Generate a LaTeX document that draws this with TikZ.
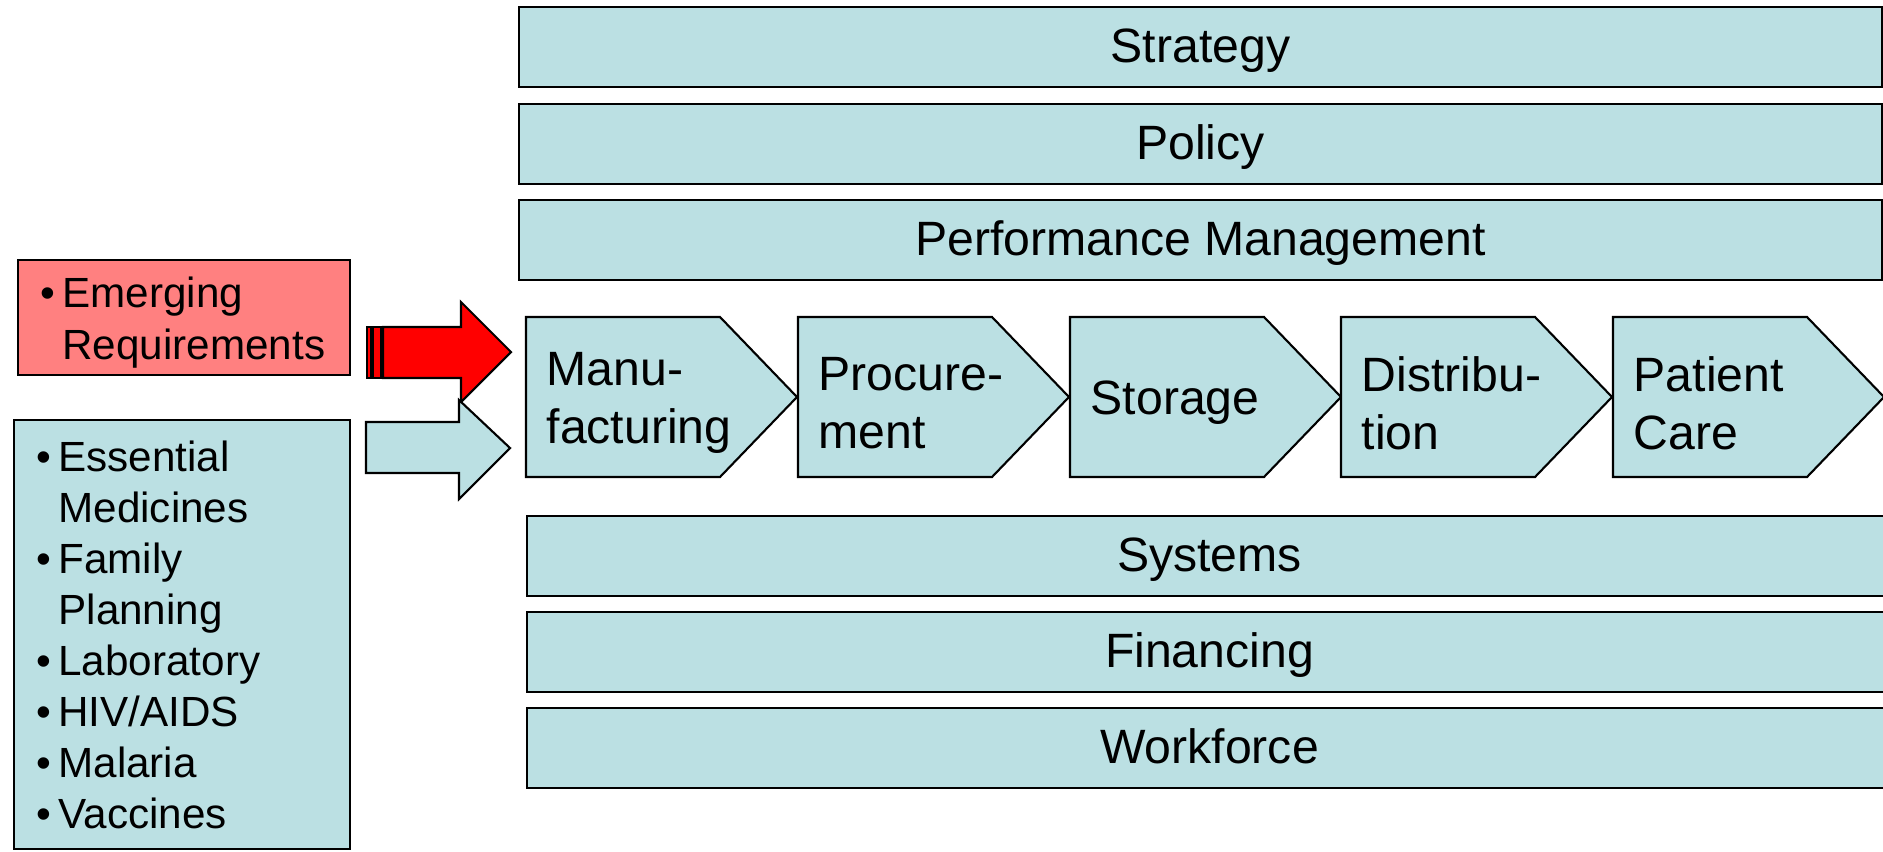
\documentclass[tikz,border=0pt]{standalone}
\usepackage{fontspec}
\setmainfont{Liberation Sans}
\usepackage{xcolor}
\definecolor{barblue}{RGB}{187,224,227}
\definecolor{reqpink}{RGB}{255,128,128}
\definecolor{arrred}{RGB}{255,0,0}

\begin{document}
\begin{tikzpicture}[x=0.01cm,y=-0.01cm]
    \tikzstyle{tier}=[draw,line width=.6pt,fill=barblue,anchor=north west,minimum height=.8cm,inner sep=0pt,text height=.86em,text depth=0pt,font=\fontsize{13.7}{16.5}\selectfont]
    \tikzstyle{chev}=[draw,line width=.6pt,fill=barblue]
    \tikzstyle{chevtext}=[anchor=west,align=left,inner sep=0pt,font=\fontsize{13.7}{16.5}\selectfont]
    \tikzstyle{listbox}=[draw,line width=.6pt,anchor=north west,inner sep=0pt]
    \tikzstyle{listtext}=[inner sep=0pt,font=\fontsize{12}{14.5}\selectfont]
    \useasboundingbox (0,0) rectangle (1883,851);
    % top tiers
    \node[tier,minimum width=13.62cm] (strat) at (518,6) {Strategy};
    \node[tier,minimum width=13.62cm] (pol) at (518,103) {Policy};
    \node[tier,minimum width=13.62cm] (perf) at (518,199) {Performance Management};
    % supply chain
    \draw[chev] (526,317) -- (720,317) -- (797,397) -- (720,477) -- (526,477) -- cycle;
    \draw[chev] (798,317) -- (992,317) -- (1069,397) -- (992,477) -- (798,477) -- cycle;
    \draw[chev] (1070,317) -- (1264,317) -- (1341,397) -- (1264,477) -- (1070,477) -- cycle;
    \draw[chev] (1341,317) -- (1535,317) -- (1612,397) -- (1535,477) -- (1341,477) -- cycle;
    \draw[chev] (1613,317) -- (1807,317) -- (1884,397) -- (1807,477) -- (1613,477) -- cycle;
    \node[chevtext] (manu) at (546,403) {Manu-\\facturing};
    \node[chevtext] (proc) at (818,403) {Procure-\\ment};
    \node[chevtext] (stor) at (1090,403) {Storage};
    \node[chevtext] (dist) at (1361,403) {Distribu-\\tion};
    \node[chevtext] (care) at (1633,403) {Patient\\Care};
    % bottom tiers
    \node[tier,minimum width=13.64cm] (sys) at (526,515) {Systems};
    \node[tier,minimum width=13.64cm] (fin) at (526,611) {Financing};
    \node[tier,minimum width=13.64cm] (work) at (526,707) {Workforce};
    % programme boxes
    \node[listbox,fill=reqpink,minimum width=3.32cm,minimum height=1.15cm] (req) at (17,259) {};
    \node[listtext,anchor=west,font=\fontsize{12}{14.7}\selectfont] (reqtext) at (40,323)
        {\begin{tabular}{@{}l@{\hspace{2pt}}l@{}}\textbullet & Emerging\\ & Requirements\end{tabular}};
    \node[listbox,fill=barblue,minimum width=3.36cm,minimum height=4.29cm] (prog) at (13,419) {};
    \node[listtext,anchor=north west] (progtext) at (36,435)
        {\begin{tabular}{@{}l@{\hspace{2pt}}l@{}}
        \textbullet & Essential\\ & Medicines\\
        \textbullet & Family\\ & Planning\\
        \textbullet & Laboratory\\
        \textbullet & HIV/AIDS\\
        \textbullet & Malaria\\
        \textbullet & Vaccines\end{tabular}};
    % arrows into the chain
    \draw[line width=.6pt,fill=arrred] (367,327) rectangle (371,378);
    \draw[line width=.6pt,fill=arrred] (373,327) rectangle (381,378);
    \draw[line width=.6pt,fill=arrred] (383,327) -- (461,327) -- (461,302) -- (511,352)
        -- (461,402) -- (461,378) -- (383,378) -- cycle;
    \draw[line width=.6pt,fill=barblue] (366,422) -- (459,422) -- (459,400) -- (510,448)
        -- (459,499) -- (459,473) -- (366,473) -- cycle;
\end{tikzpicture}
\end{document}
